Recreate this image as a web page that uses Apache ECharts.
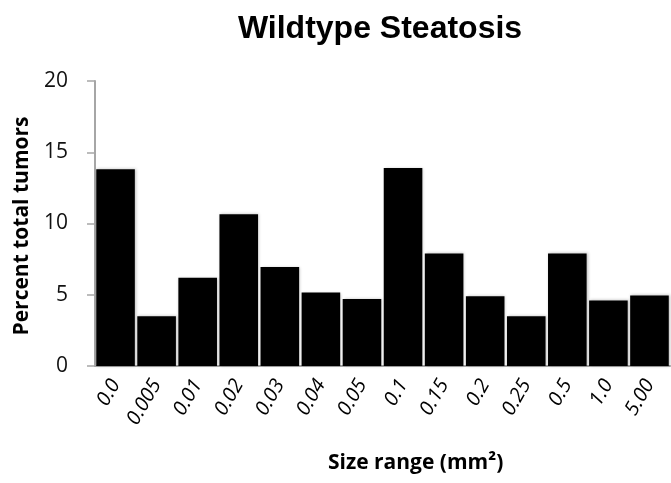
<!DOCTYPE html>
<html><head><meta charset="utf-8">
<script src="https://cdn.jsdelivr.net/npm/echarts@6/dist/echarts.min.js"></script>
<style>html,body{margin:0;padding:0;background:#fff}#c{width:671px;height:483px}</style>
</head><body><div id="c"></div>
<script>
const categories = ['0.0','0.005','0.01','0.02','0.03','0.04','0.05','0.1','0.15','0.2','0.25','0.5','1.0','5.00'];
const values = [13.8, 3.5, 6.2, 10.65, 6.95, 5.15, 4.7, 13.9, 7.9, 4.9, 3.5, 7.9, 4.6, 4.95];
const yTicks = [0, 5, 10, 15, 20];
const titleText = 'Wildtype Steatosis';
const xName = 'Size range (mm²)';
const yName = 'Percent total tumors';

const chart = echarts.init(document.getElementById('c'));
chart.setOption({
  animation: false,
  title: {
    text: titleText, left: 375, top: 8, textAlign: 'center',
    textStyle: {fontFamily: 'Liberation Sans', fontWeight: 'bold', fontSize: 32, color: '#000'}
  },
  grid: {left: 95, right: 1, top: 81, bottom: 117},
  graphic: [
    {type: 'text', left: 328, top: 453,
     style: {text: xName, fontFamily: 'Open Sans', fontWeight: 'bold', fontSize: 21, fill: '#000'}},
    {type: 'text', x: 22, y: 226, rotation: Math.PI / 2,
     style: {text: yName, fontFamily: 'Open Sans', fontWeight: 'bold', fontSize: 21, fill: '#000', align: 'center', verticalAlign: 'middle'}}
  ],
  xAxis: {
    type: 'category', data: categories,
    axisLine: {lineStyle: {color: '#a6a6a6', width: 2}},
    axisTick: {show: false},
    axisLabel: {rotate: 60, fontFamily: 'Open Sans', fontStyle: 'italic', fontSize: 20, color: '#000', margin: 15, interval: 0}
  },
  yAxis: {
    type: 'value', min: yTicks[0], max: yTicks[yTicks.length-1], interval: 5,
    axisLine: {show: true, lineStyle: {color: '#a6a6a6', width: 2}},
    axisTick: {show: true, length: 8, lineStyle: {color: '#a6a6a6', width: 1.5}},
    splitLine: {show: false},
    axisLabel: {fontFamily: 'Open Sans', fontSize: 21, color: '#111', margin: 27}
  },
  series: [{
    type: 'bar', data: values, barCategoryGap: '6%',
    itemStyle: {color: '#000', shadowColor: 'rgba(0,0,0,0.25)', shadowBlur: 3, shadowOffsetX: 1, shadowOffsetY: 0}
  }]
});
</script></body></html>
